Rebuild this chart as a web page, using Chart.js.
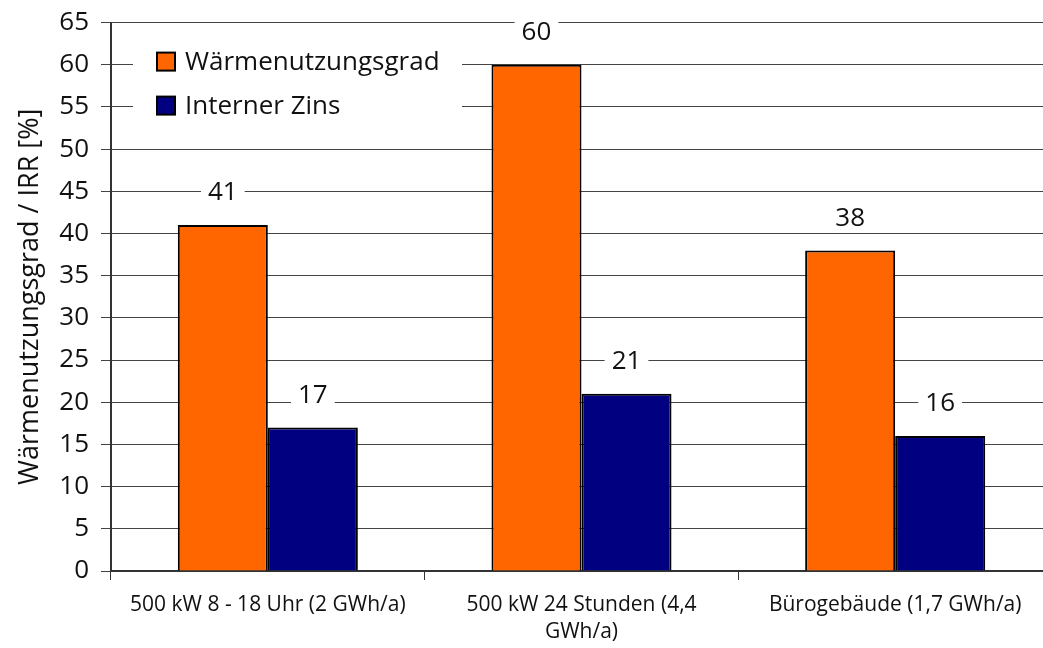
<!DOCTYPE html>
<html>
<head>
<meta charset="utf-8">
<script src="https://cdn.jsdelivr.net/npm/chart.js@4"></script>
<style>
html,body{margin:0;padding:0;background:#fff;overflow:hidden;}
#wrap{position:relative;width:1062px;height:648px;overflow:hidden;}
#c{position:absolute;left:0;top:-5px;}
</style>
</head>
<body>
<div id="wrap"><canvas id="c" width="1062" height="653"></canvas></div>
<script>
const categories = [
  "500 kW 8 - 18 Uhr (2 GWh/a)",
  ["500 kW 24 Stunden (4,4", "GWh/a)"],
  "Bürogebäude (1,7 GWh/a)"
];
const seriesNames = ["Wärmenutzungsgrad", "Interner Zins"];
const waermenutzungsgrad = [41, 60, 38];
const internerZins = [17, 21, 16];
const yTicks = [0, 5, 10, 15, 20, 25, 30, 35, 40, 45, 50, 55, 60, 65];
const yTitle = "Wärmenutzungsgrad / IRR [%]";

const FONT = "'Open Sans', 'Noto Sans', sans-serif";

const valueLabels = {
  id: 'valueLabels',
  afterDatasetsDraw(chart) {
    const ctx = chart.ctx;
    ctx.save();
    ctx.font = "26px " + FONT;
    ctx.textAlign = 'center';
    ctx.textBaseline = 'middle';
    chart.data.datasets.forEach((ds, i) => {
      const meta = chart.getDatasetMeta(i);
      meta.data.forEach((bar, j) => {
        const txt = String(ds.data[j]);
        const w = ctx.measureText(txt).width + 14;
        const y = bar.y - 32;
        ctx.fillStyle = '#fff';
        ctx.fillRect(bar.x - w / 2, y - 12, w, 24);
        ctx.fillStyle = '#111';
        ctx.fillText(txt, bar.x, y);
      });
    });
    ctx.restore();
  }
};

const innerLegend = {
  id: 'innerLegend',
  afterDatasetsDraw(chart) {
    const ctx = chart.ctx;
    const a = chart.chartArea;
    ctx.save();
    ctx.fillStyle = '#fff';
    ctx.fillRect(a.left + 22, a.top + 14, 329, 94);
    ctx.font = "26px " + FONT;
    ctx.textBaseline = 'middle';
    ctx.textAlign = 'left';
    chart.data.datasets.forEach((ds, i) => {
      const cy = a.top + 39 + i * 44;
      const bx = a.left + 46;
      ctx.fillStyle = ds.backgroundColor;
      ctx.fillRect(bx, cy - 9, 18, 18);
      ctx.lineWidth = 2;
      ctx.strokeStyle = '#000';
      ctx.strokeRect(bx, cy - 9, 18, 18);
      ctx.fillStyle = '#111';
      ctx.fillText(ds.label, bx + 28, cy + 1);
    });
    ctx.restore();
  }
};

new Chart(document.getElementById('c'), {
  type: 'bar',
  data: {
    labels: categories,
    datasets: [
      { label: seriesNames[0], data: waermenutzungsgrad, backgroundColor: '#FF6600', borderColor: '#000', borderWidth: 2, borderSkipped: 'bottom' },
      { label: seriesNames[1], data: internerZins, backgroundColor: '#000080', borderColor: '#000', borderWidth: 2, borderSkipped: 'bottom' }
    ]
  },
  plugins: [valueLabels, innerLegend],
  options: {
    responsive: false,
    animation: false,
    devicePixelRatio: 1,
    layout: { padding: { left: 0, right: 10, top: 12, bottom: 0 } },
    categoryPercentage: 0.574,
    barPercentage: 1.0,
    plugins: { legend: { display: false }, tooltip: { enabled: false } },
    scales: {
      x: {
        offset: true,
        grid: { offset: true, drawOnChartArea: false, color: '#333', tickLength: 9, lineWidth: 1 },
        border: { color: '#333', width: 2 },
        ticks: { color: '#111', font: { family: FONT, size: 21, lineHeight: 1.3 }, padding: 11, maxRotation: 0, autoSkip: false },
        afterFit(s) { s.height = 77; }
      },
      y: {
        min: 0, max: 65,
        afterBuildTicks(s) { s.ticks = yTicks.map(v => ({ value: v })); },
        grid: { color: '#444', lineWidth: 1, tickLength: 10 },
        border: { color: '#333', width: 2 },
        ticks: { color: '#111', font: { family: FONT, size: 26 }, padding: 12 },
        title: { display: true, text: yTitle, color: '#111', font: { family: FONT, size: 27 }, padding: { top: 14, bottom: 0 } },
        afterFit(s) { s.width = 111; }
      }
    }
  }
});
</script>
</body>
</html>
